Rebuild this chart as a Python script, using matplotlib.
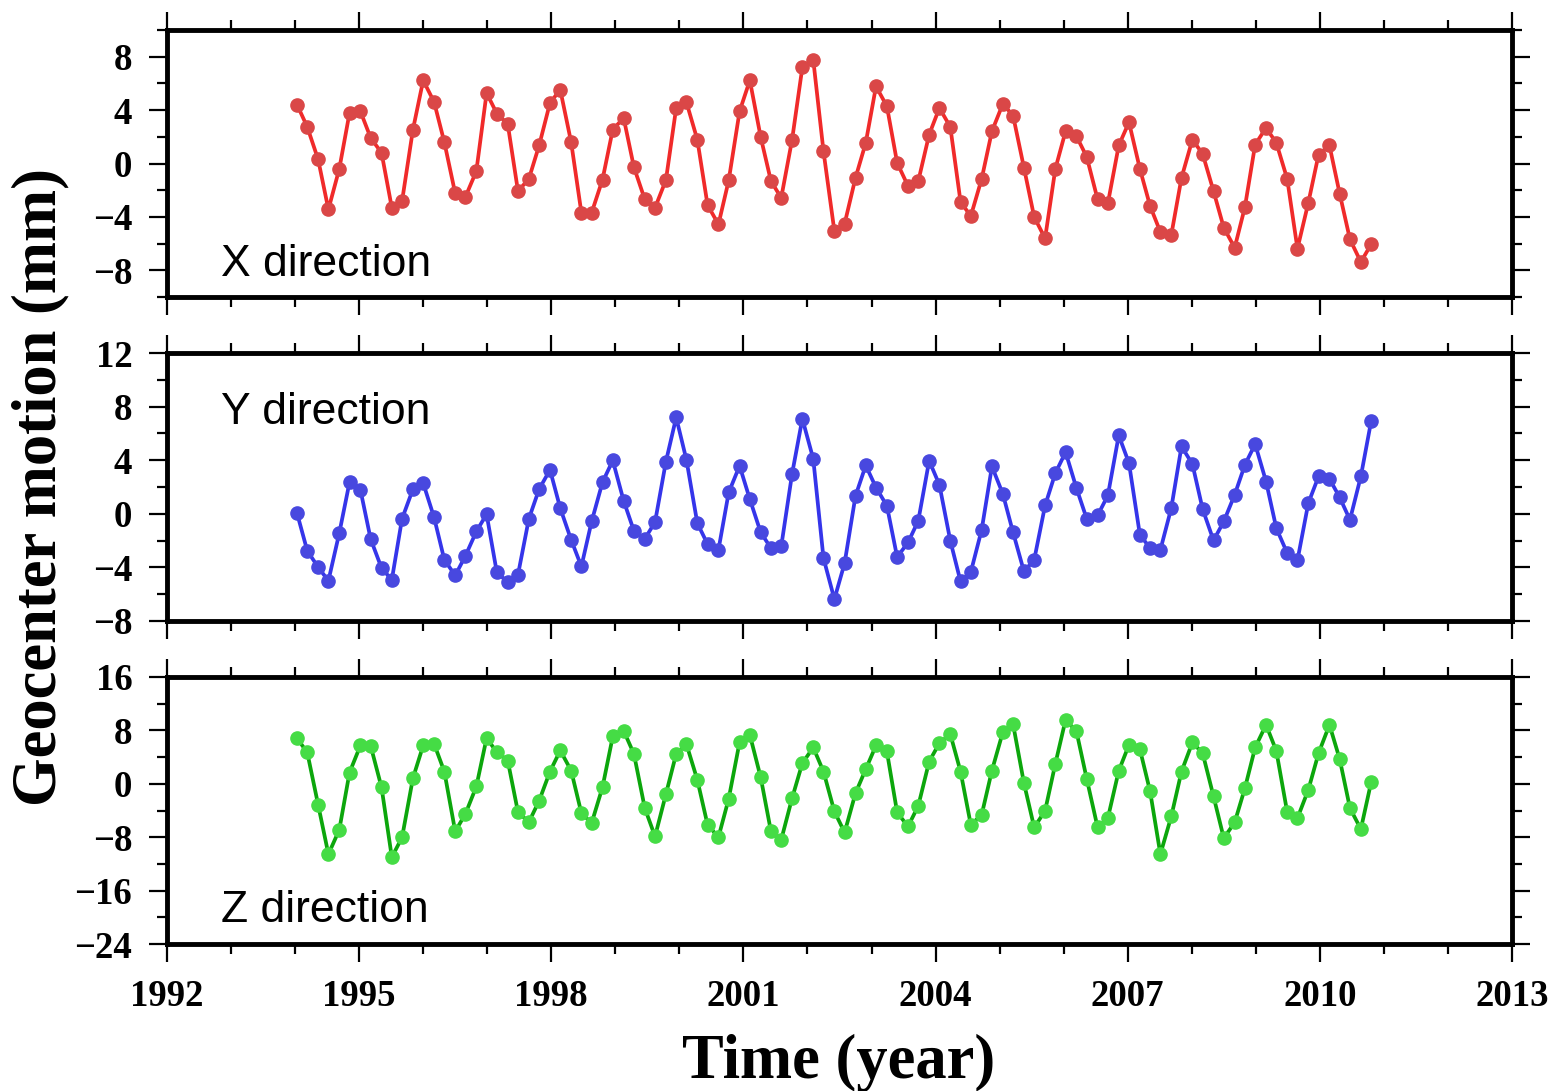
import matplotlib
matplotlib.use('Agg')
import matplotlib.pyplot as plt
from matplotlib.ticker import MultipleLocator

# sampling epochs (decimal year), roughly every 60 days
years = [1994.03, 1994.19, 1994.36, 1994.52, 1994.69, 1994.85, 1995.02, 1995.18, 1995.35, 1995.51,
         1995.67, 1995.84, 1996.00, 1996.17, 1996.33, 1996.50, 1996.66, 1996.83, 1996.99, 1997.15,
         1997.32, 1997.48, 1997.65, 1997.81, 1997.98, 1998.14, 1998.31, 1998.47, 1998.63, 1998.80,
         1998.96, 1999.13, 1999.29, 1999.46, 1999.62, 1999.79, 1999.95, 2000.11, 2000.28, 2000.44,
         2000.61, 2000.77, 2000.94, 2001.10, 2001.27, 2001.43, 2001.59, 2001.76, 2001.92, 2002.09,
         2002.25, 2002.42, 2002.58, 2002.75, 2002.91, 2003.07, 2003.24, 2003.40, 2003.57, 2003.73,
         2003.90, 2004.06, 2004.23, 2004.39, 2004.55, 2004.72, 2004.88, 2005.05, 2005.21, 2005.38,
         2005.54, 2005.71, 2005.87, 2006.03, 2006.20, 2006.36, 2006.53, 2006.69, 2006.86, 2007.02,
         2007.19, 2007.35, 2007.51, 2007.68, 2007.84, 2008.01, 2008.17, 2008.34, 2008.50, 2008.67,
         2008.83, 2008.99, 2009.16, 2009.32, 2009.49, 2009.65, 2009.82, 2009.98, 2010.15, 2010.31,
         2010.47, 2010.64, 2010.80]

# geocenter motion (mm)
x_motion = [4.41, 2.74, 0.30, -3.44, -0.40, 3.79, 3.91, 1.92, 0.80, -3.31,
            -2.82, 2.54, 6.23, 4.61, 1.60, -2.24, -2.49, -0.57, 5.28, 3.74,
            2.96, -2.07, -1.15, 1.35, 4.54, 5.53, 1.60, -3.69, -3.69, -1.20,
            2.54, 3.41, -0.27, -2.69, -3.31, -1.24, 4.16, 4.59, 1.79, -3.11,
            -4.56, -1.27, 3.91, 6.23, 1.97, -1.32, -2.57, 1.79, 7.20, 7.78,
            0.92, -5.06, -4.51, -1.07, 1.55, 5.78, 4.29, 0.05, -1.69, -1.32,
            2.17, 4.16, 2.74, -2.87, -3.94, -1.15, 2.42, 4.46, 3.59, -0.32,
            -4.01, -5.61, -0.40, 2.42, 2.04, 0.50, -2.69, -2.99, 1.35, 3.09,
            -0.40, -3.19, -5.13, -5.36, -1.07, 1.79, 0.72, -2.07, -4.81, -6.31,
            -3.26, 1.42, 2.67, 1.55, -1.15, -6.38, -2.94, 0.67, 1.35, -2.27,
            -5.68, -7.38, -6.06]

y_motion = [0.05, -2.76, -3.98, -5.00, -1.44, 2.36, 1.79, -1.89, -4.05, -4.93,
            -0.37, 1.84, 2.29, -0.27, -3.43, -4.60, -3.13, -1.32, -0.03, -4.38,
            -5.10, -4.55, -0.37, 1.84, 3.28, 0.42, -1.94, -3.93, -0.57, 2.36,
            3.98, 0.97, -1.27, -1.87, -0.62, 3.90, 7.19, 4.03, -0.70, -2.26,
            -2.69, 1.59, 3.58, 1.09, -1.39, -2.56, -2.44, 2.99, 7.09, 4.10,
            -3.31, -6.37, -3.68, 1.34, 3.61, 1.96, 0.60, -3.23, -2.14, -0.52,
            3.96, 2.16, -2.01, -5.05, -4.35, -1.19, 3.53, 1.49, -1.39, -4.30,
            -3.43, 0.62, 3.03, 4.60, 1.91, -0.37, -0.12, 1.37, 5.85, 3.78,
            -1.57, -2.56, -2.69, 0.42, 5.03, 3.71, 0.35, -1.99, -0.57, 1.42,
            3.66, 5.20, 2.41, -1.07, -2.93, -3.48, 0.80, 2.79, 2.61, 1.22,
            -0.45, 2.79, 6.89]

z_motion = [6.84, 4.69, -3.15, -10.54, -6.89, 1.69, 5.74, 5.69, -0.55, -10.99,
            -8.04, 0.85, 5.74, 5.99, 1.84, -7.14, -4.49, -0.40, 6.84, 4.74,
            3.49, -4.24, -5.74, -2.55, 1.84, 4.99, 1.99, -4.39, -5.89, -0.50,
            7.09, 7.94, 4.49, -3.64, -7.89, -1.54, 4.49, 5.94, 0.60, -6.14,
            -7.99, -2.25, 6.24, 7.34, 0.95, -7.14, -8.39, -2.15, 3.09, 5.44,
            1.84, -4.14, -7.29, -1.40, 2.19, 5.74, 4.84, -4.29, -6.39, -3.30,
            3.34, 6.09, 7.44, 1.84, -6.14, -4.64, 1.99, 7.74, 8.94, 0.10,
            -6.54, -4.04, 3.00, 9.59, 7.84, 0.75, -6.54, -5.14, 1.95, 5.84,
            5.19, -1.15, -10.54, -4.89, 1.84, 6.19, 4.59, -1.89, -8.14, -5.79,
            -0.65, 5.44, 8.84, 4.94, -4.24, -5.14, -0.90, 4.59, 8.84, 3.69,
            -3.64, -6.79, 0.20]

labels = ['X direction', 'Y direction', 'Z direction']
series = [x_motion, y_motion, z_motion]
line_colors = ['#f02a2a', '#3535ea', '#0ca60c']
dot_colors = ['#da4747', '#4848df', '#45dc45']
y_limits = [(-10, 10), (-8, 12), (-24, 16)]
y_steps = [4, 4, 8]
# label position in axes fraction (x, baseline y)
label_pos = [(0.040, 0.08), (0.040, 0.735), (0.040, 0.082)]

plt.rcParams['font.family'] = ['Liberation Serif', 'DejaVu Serif']
plt.rcParams['font.weight'] = 'bold'

fig = plt.figure(figsize=(15.61, 10.91), dpi=100)

W, H = 1561.0, 1091.0
left, right = 167, 1512
frames = [(30, 297), (353, 621), (677, 944)]

for i in range(3):
    top, bottom = frames[i]
    ax = fig.add_axes([left / W, 1 - bottom / H, (right - left) / W, (bottom - top) / H])
    ax.plot(years, series[i], color=line_colors[i], linewidth=2.7,
            marker='o', markersize=9.5, markerfacecolor=dot_colors[i],
            markeredgecolor=dot_colors[i], zorder=3)
    ax.set_xlim(1992, 2013)
    ax.set_ylim(*y_limits[i])
    ax.xaxis.set_major_locator(MultipleLocator(3))
    ax.xaxis.set_minor_locator(MultipleLocator(1))
    ax.yaxis.set_major_locator(MultipleLocator(y_steps[i]))
    ax.yaxis.set_minor_locator(MultipleLocator(y_steps[i] / 2))
    for sp in ax.spines.values():
        sp.set_linewidth(3.5)
    ax.tick_params(which='both', direction='out', top=True, right=True, width=1.6)
    ax.tick_params(which='major', length=13, labelsize=26.5, pad=12)
    ax.tick_params(which='minor', length=7)
    if i < 2:
        ax.tick_params(labelbottom=False)
    for lab in ax.get_xticklabels() + ax.get_yticklabels():
        lab.set_fontweight('bold')
    ax.text(label_pos[i][0], label_pos[i][1], labels[i], transform=ax.transAxes,
            family=['Liberation Sans', 'DejaVu Sans'], fontweight='normal',
            fontsize=32, va='baseline', ha='left')

fig.text(40 / W, 1 - 487 / H, 'Geocenter motion (mm)', rotation=90,
         ha='center', va='center', fontsize=45, fontweight='bold')
fig.text(839 / W, 1 - 1078 / H, 'Time (year)', ha='center', va='baseline',
         fontsize=45, fontweight='bold')

fig.savefig('out.png', dpi=100)
